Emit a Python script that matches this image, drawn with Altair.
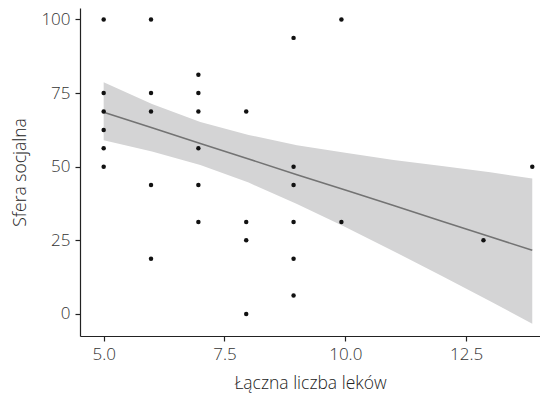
import altair as alt
import pandas as pd

# Scatter data (x = total number of drugs, y = social sphere score)
pt_x = [5, 5, 5, 5, 5, 5,
        5.98, 5.98, 5.98, 5.98, 5.98,
        6.96, 6.96, 6.96, 6.96, 6.96, 6.96,
        7.95, 7.95, 7.95, 7.95,
        8.93, 8.93, 8.93, 8.93, 8.93, 8.93,
        9.92, 9.92,
        12.86,
        13.87]
pt_y = [100, 75, 68.75, 62.5, 56.25, 50,
        100, 75, 68.75, 43.75, 18.75,
        81.25, 75, 68.75, 56.25, 43.75, 31.25,
        68.75, 31.25, 25, 0,
        93.75, 50, 43.75, 31.25, 18.75, 6.25,
        100, 31.25,
        25,
        50]

# Fitted line and confidence band
fit_x = [5, 6, 7, 8, 9, 10, 11, 12, 13, 13.87]
fit_y = [68.5, 63.2, 57.9, 52.6, 47.3, 42.1, 36.8, 31.5, 26.2, 21.6]
fit_lo = [59.0, 55.2, 50.6, 44.6, 37.3, 29.5, 21.3, 12.9, 4.3, -3.3]
fit_hi = [78.7, 71.3, 65.2, 60.8, 57.3, 54.7, 52.3, 50.2, 48.1, 46.0]

x_ticks = [5.0, 7.5, 10.0, 12.5]
y_ticks = [0, 25, 50, 75, 100]

pts = pd.DataFrame({"x": pt_x, "y": pt_y})
fit = pd.DataFrame({"x": fit_x, "y": fit_y, "lo": fit_lo, "hi": fit_hi})

FONT = "Open Sans"
xs = alt.Scale(domain=[4.51, 14.03], nice=False, zero=False)
ys = alt.Scale(domain=[-7.5, 103.9], nice=False, zero=False)

xaxis = alt.Axis(values=x_ticks, format=".1f", title="Łączna liczba leków",
                 grid=False, domainColor="#222222", domainWidth=1.2,
                 tickColor="#222222", tickWidth=1.2, tickSize=5,
                 labelFont=FONT, labelFontSize=17, labelFontWeight=300,
                 labelColor="#333333", labelPadding=5,
                 titleFont=FONT, titleFontSize=17.5, titleFontWeight=300,
                 titleColor="#222222", titlePadding=12)
yaxis = alt.Axis(values=y_ticks, format="d", title="Sfera socjalna",
                 grid=False, domainColor="#222222", domainWidth=1.2,
                 tickColor="#222222", tickWidth=1.2, tickSize=5,
                 labelFont=FONT, labelFontSize=17, labelFontWeight=300,
                 labelColor="#333333", labelPadding=5,
                 titleFont=FONT, titleFontSize=17.5, titleFontWeight=300,
                 titleColor="#222222", titlePadding=11)

band = alt.Chart(fit).mark_area(color="#d4d4d5", opacity=1).encode(
    x=alt.X("x:Q", scale=xs, axis=xaxis),
    y=alt.Y("lo:Q", scale=ys, axis=yaxis),
    y2="hi:Q",
)
line = alt.Chart(fit).mark_line(color="#737373", strokeWidth=1.6).encode(
    x=alt.X("x:Q", scale=xs),
    y=alt.Y("y:Q", scale=ys),
)
dots = alt.Chart(pts).mark_circle(color="#111111", opacity=1, size=20).encode(
    x=alt.X("x:Q", scale=xs),
    y=alt.Y("y:Q", scale=ys),
)

chart = alt.layer(band, line, dots).properties(
    width=460, height=328,
    autosize=alt.AutoSizeParams(type="none"),
    padding={"left": 72, "top": 0, "right": 0, "bottom": 61},
).configure_view(stroke=None)

chart.save("out.html", embed_options={"renderer": "svg", "actions": False})
